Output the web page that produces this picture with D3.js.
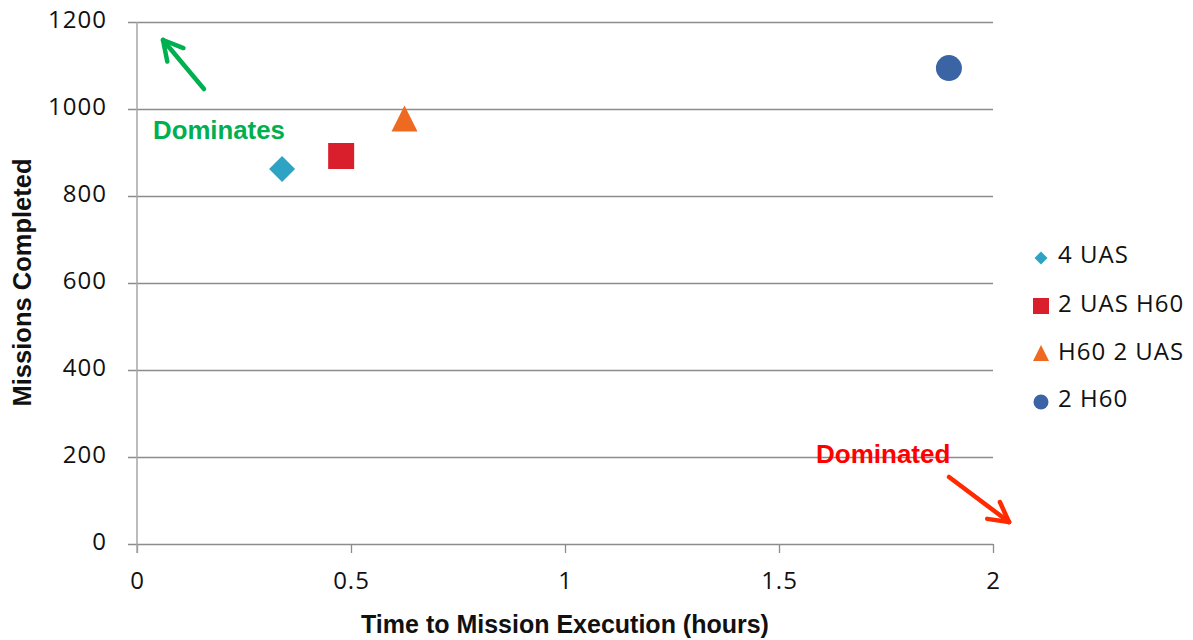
<!DOCTYPE html>
<html>
<head>
<meta charset="utf-8">
<script src="https://cdn.jsdelivr.net/npm/d3@7"></script>
<style>
  html, body { margin: 0; padding: 0; background: #fff; }
  svg { display: block; }
</style>
</head>
<body>
<svg id="chart" width="1193" height="640"></svg>
<script>
// ---- Data ----
const seriesNames = ["4 UAS", "2 UAS H60", "H60 2 UAS", "2 H60"];
const timeValues = [0.339, 0.477, 0.625, 1.897];
const missionValues = [862, 892, 978, 1094];
const markerShapes = ["diamond", "square", "triangle", "circle"];
const seriesColors = ["#2ea3c3", "#d91f2b", "#ee6a20", "#3a64a4"];
const xTicks = [0, 0.5, 1, 1.5, 2];
const xTickLabels = ["0", "0.5", "1", "1.5", "2"];
const yTicks = [0, 200, 400, 600, 800, 1000, 1200];
const yTickLabels = ["0", "200", "400", "600", "800", "1000", "1200"];

(function () {
const svg = d3.select("#chart");
const mLeft = 137, mRight = 993, mTop = 22, mBottom = 544;
const x = d3.scaleLinear().domain([0, 2]).range([mLeft, mRight]);
const y = d3.scaleLinear().domain([0, 1200]).range([mBottom, mTop]);

const tickFont = "'Open Sans', sans-serif";
const titleFont = "'Liberation Sans', Arial, sans-serif";

// gridlines + y labels
const grid = svg.append("g").attr("transform", `translate(${mRight},0)`)
  .call(d3.axisLeft(y).tickValues(yTicks).tickSize(mRight - mLeft + 9).tickFormat((d, i) => yTickLabels[i]).tickPadding(21));
grid.select(".domain").remove();
grid.selectAll(".tick line").attr("stroke", "#8c8c8c").attr("stroke-width", 1.3);
grid.selectAll(".tick text").attr("font-family", tickFont).attr("font-size", 24).attr("fill", "#111")
  .attr("letter-spacing", 1).attr("dy", "0.22em");

// x axis
const gx = svg.append("g").attr("transform", `translate(0,${mBottom})`)
  .call(d3.axisBottom(x).tickValues(xTicks).tickSize(9).tickFormat((d, i) => xTickLabels[i]).tickPadding(19));
gx.select(".domain").remove();
gx.selectAll(".tick line").attr("stroke", "#8c8c8c").attr("stroke-width", 1.3);
gx.selectAll(".tick text").attr("font-family", tickFont).attr("font-size", 24).attr("fill", "#111")
  .attr("letter-spacing", 1);

// vertical axis line
svg.append("line").attr("x1", x(0)).attr("x2", x(0)).attr("y1", y(1200)).attr("y2", mBottom + 9)
  .attr("stroke", "#a6a6a6").attr("stroke-width", 1.5);

// Axis titles
svg.append("text").attr("x", x(1)).attr("y", 633).attr("text-anchor", "middle")
  .attr("font-family", titleFont).attr("font-weight", "bold").attr("font-size", 25).attr("fill", "#111")
  .text("Time to Mission Execution (hours)");
svg.append("text").attr("transform", `translate(31,${(160 + 405) / 2}) rotate(-90)`).attr("text-anchor", "middle")
  .attr("font-family", titleFont).attr("font-weight", "bold").attr("font-size", 25.5).attr("fill", "#111")
  .text("Missions Completed");

// Annotations
svg.append("text").attr("x", 153).attr("y", 139).attr("font-family", titleFont).attr("font-weight", "bold")
  .attr("font-size", 25.8).attr("fill", "#00b050").text("Dominates");
svg.append("text").attr("x", 816).attr("y", 463).attr("font-family", titleFont).attr("font-weight", "bold")
  .attr("font-size", 26).attr("fill", "#ff0000").text("Dominated");

function arrow(x1, y1, x2, y2, color) {
  const g = svg.append("g").attr("stroke", color).attr("stroke-width", 4.5).attr("stroke-linecap", "round").attr("fill", "none");
  g.append("line").attr("x1", x1).attr("y1", y1).attr("x2", x2).attr("y2", y2);
  const ang = Math.atan2(y2 - y1, x2 - x1);
  const len = 22, spread = 0.5;
  [ang + Math.PI - spread, ang + Math.PI + spread].forEach(a => {
    g.append("line").attr("x1", x2).attr("y1", y2)
      .attr("x2", x2 + len * Math.cos(a)).attr("y2", y2 + len * Math.sin(a));
  });
}
arrow(204, 89, 163, 40, "#00b050");
arrow(949, 477, 1009, 522, "#ff2a00");

function symPath(shape, size) {
  const s = size / 2;
  if (shape === "diamond") return `M0,${-s}L${s},0L0,${s}L${-s},0Z`;
  if (shape === "square") return `M${-s},${-s}H${s}V${s}H${-s}Z`;
  if (shape === "triangle") return `M0,${-s}L${s},${s}L${-s},${s}Z`;
  return d3.symbol().type(d3.symbolCircle).size(Math.PI * s * s)();
}

const pts = svg.append("g");
seriesNames.forEach((name, i) => {
  pts.append("path").attr("d", symPath(markerShapes[i], 26))
    .attr("transform", `translate(${x(timeValues[i])},${y(missionValues[i])})`)
    .attr("fill", seriesColors[i]);
});

// legend
const legendMarkY = [258, 306, 353, 402];
const legendTextY = [254, 303, 351, 398];
const legendSizes = [13, 16, 16, 15];
const lg = svg.append("g");
seriesNames.forEach((name, i) => {
  lg.append("path").attr("d", symPath(markerShapes[i], legendSizes[i]))
    .attr("transform", `translate(1041,${legendMarkY[i]})`).attr("fill", seriesColors[i]);
  lg.append("text").attr("x", 1058).attr("y", legendTextY[i]).attr("dy", "0.36em")
    .attr("font-family", tickFont).attr("font-size", 24).attr("letter-spacing", 1).attr("fill", "#111")
    .text(name);
});
})();
</script>
</body>
</html>
